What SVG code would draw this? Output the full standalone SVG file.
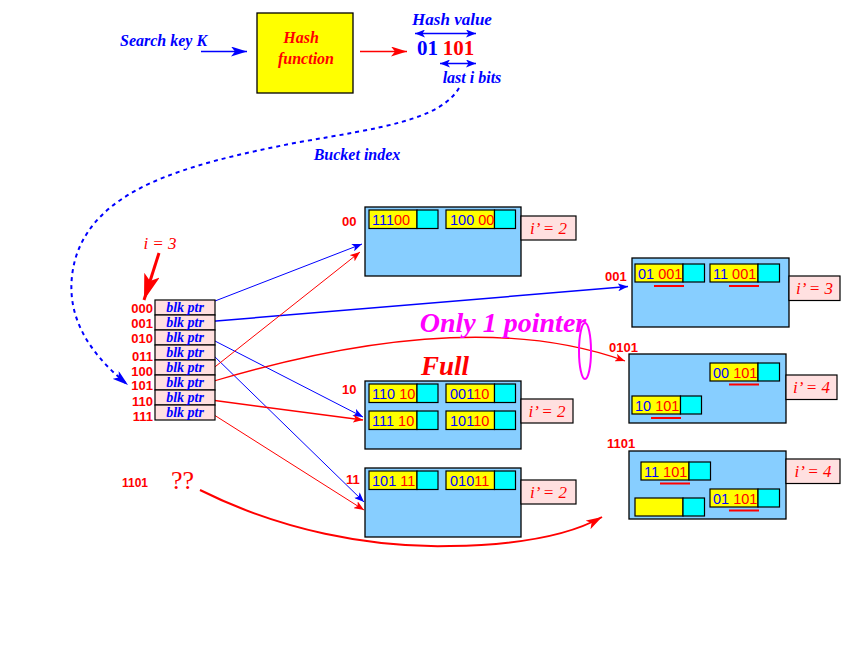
<svg xmlns="http://www.w3.org/2000/svg" width="862" height="652" viewBox="0 0 862 652">
<style>
.bk{fill:#87ceff;stroke:#000;stroke-width:1.3}
.ye{fill:#ffff00;stroke:#000;stroke-width:1.2}
.cy{fill:#00ffff;stroke:#000;stroke-width:1.2}
.pk{fill:#ffe0e0;stroke:#000;stroke-width:1.2}
.it{font-family:"Liberation Serif","Times New Roman",serif;font-style:italic;font-weight:bold}
.sn{font-family:"Liberation Sans",Arial,sans-serif}
.rd{fill:#ff0000}
.bl{fill:#0000ff}
.mg{fill:#ff00ff}
.rec{font-family:"Liberation Sans",Arial,sans-serif;font-size:14.5px}
.ip{font-family:"Liberation Serif","Times New Roman",serif;font-style:italic;font-size:17px;fill:#ff0000;text-anchor:middle}
.lab{font-family:"Liberation Sans",Arial,sans-serif;font-weight:bold;font-size:13px;fill:#ff0000}
.ul{stroke:#ff0000;stroke-width:2}
.cb{fill:none;stroke:#0000ff}
.cr{fill:none;stroke:#ff0000}
</style>
<defs>
<marker id="ab" viewBox="0 0 10 8" refX="10" refY="4" markerWidth="10" markerHeight="8" markerUnits="userSpaceOnUse" orient="auto-start-reverse"><path d="M0,0 L10,4 L0,8 L2.5,4 z" fill="#0000ff"/></marker>
<marker id="ar" viewBox="0 0 10 8" refX="10" refY="4" markerWidth="10" markerHeight="8" markerUnits="userSpaceOnUse" orient="auto"><path d="M0,0 L10,4 L0,8 L2.5,4 z" fill="#ff0000"/></marker>
<marker id="abL" viewBox="0 0 16 10" refX="16" refY="5" markerWidth="16" markerHeight="10" markerUnits="userSpaceOnUse" orient="auto"><path d="M0,0 L16,5 L0,10 L4,5 z" fill="#0000ff"/></marker>
<marker id="arL" viewBox="0 0 16 10" refX="16" refY="5" markerWidth="16" markerHeight="10" markerUnits="userSpaceOnUse" orient="auto"><path d="M0,0 L16,5 L0,10 L4,5 z" fill="#ff0000"/></marker>
<marker id="arXL" viewBox="0 0 26 16" refX="26" refY="8" markerWidth="26" markerHeight="16" markerUnits="userSpaceOnUse" orient="auto"><path d="M0,0 L26,8 L0,16 L6,8 z" fill="#ff0000"/></marker>
</defs>
<rect width="862" height="652" fill="#ffffff"/>

<g id="connectors">
<line x1="201" y1="51.5" x2="247" y2="51.5" class="cb" stroke-width="1.5" marker-end="url(#abL)"/>
<line x1="360" y1="51.5" x2="407" y2="51.5" class="cr" stroke-width="1.5" marker-end="url(#arL)"/>
<line x1="415" y1="33.5" x2="476" y2="33.5" class="cb" stroke-width="1.5" marker-start="url(#ab)" marker-end="url(#ab)"/>
<line x1="440" y1="63.5" x2="476" y2="63.5" class="cb" stroke-width="1.5" marker-start="url(#ab)" marker-end="url(#ab)"/>
<path d="M459,88 C440,120 380,128 300,142 C180,165 95,190 75,260 C62,310 85,350 128,385" class="cb" stroke-width="2" stroke-dasharray="4,4" marker-end="url(#abL)"/>
<line x1="159" y1="253" x2="144" y2="300" class="cr" stroke-width="3" marker-end="url(#arXL)"/>
<line x1="215" y1="301" x2="362" y2="244" class="cb" stroke-width="1" marker-end="url(#ab)"/>
<line x1="210" y1="321.5" x2="628" y2="286.5" class="cb" stroke-width="1.5" marker-end="url(#ab)"/>
<line x1="213" y1="340" x2="363" y2="417" class="cb" stroke-width="1" marker-end="url(#ab)"/>
<line x1="213" y1="355" x2="364" y2="502" class="cb" stroke-width="1" marker-end="url(#ab)"/>
<line x1="211" y1="370" x2="360" y2="252" class="cr" stroke-width="1" marker-end="url(#ar)"/>
<path d="M214,381 Q470,305 625,361" class="cr" stroke-width="1.3" marker-end="url(#ar)"/>
<line x1="211" y1="400" x2="363" y2="420" class="cr" stroke-width="1.5" marker-end="url(#ar)"/>
<line x1="211" y1="413" x2="364" y2="510" class="cr" stroke-width="1" marker-end="url(#ar)"/>
<path d="M200,490 C280,530 370,548 450,546 C520,545 570,535 602,517" class="cr" stroke-width="2" marker-end="url(#arL)"/>
</g>

<g id="search-key">
<text x="120" y="46" class="it bl" font-size="16">Search key K</text>
</g>

<g id="hash-function">
<rect x="257" y="13" width="96" height="80" fill="#ffff00" stroke="#000" stroke-width="1.3"/>
<text x="301" y="43" class="it rd" font-size="16" text-anchor="middle">Hash</text>
<text x="306" y="64" class="it rd" font-size="16" text-anchor="middle">function</text>
</g>

<g id="hash-value">
<text x="452" y="25" class="it bl" font-size="17" text-anchor="middle">Hash value</text>
<text x="417" y="55" font-family="'Liberation Serif','Times New Roman',serif" font-weight="bold" font-size="21"><tspan class="bl">01</tspan><tspan class="rd" dx="6">101</tspan></text>
<text x="472" y="83" class="it bl" font-size="16" text-anchor="middle">last i bits</text>
<text x="357" y="160" class="it bl" font-size="16" text-anchor="middle">Bucket index</text>
</g>

<g id="directory">
<text x="160" y="249" class="rd" font-family="'Liberation Serif','Times New Roman',serif" font-style="italic" font-size="17" text-anchor="middle">i = 3</text>
<rect x="155" y="300" width="60" height="15" class="pk"/>
<rect x="155" y="315" width="60" height="15" class="pk"/>
<rect x="155" y="330" width="60" height="15" class="pk"/>
<rect x="155" y="345" width="60" height="15" class="pk"/>
<rect x="155" y="360" width="60" height="15" class="pk"/>
<rect x="155" y="375" width="60" height="15" class="pk"/>
<rect x="155" y="390" width="60" height="15" class="pk"/>
<rect x="155" y="405" width="60" height="15" class="pk"/>
<g class="it bl" font-size="14" text-anchor="middle">
<text x="185" y="312">blk ptr</text>
<text x="185" y="327">blk ptr</text>
<text x="185" y="342">blk ptr</text>
<text x="185" y="357">blk ptr</text>
<text x="185" y="372">blk ptr</text>
<text x="185" y="387">blk ptr</text>
<text x="185" y="402">blk ptr</text>
<text x="185" y="417">blk ptr</text>
</g>
<g class="lab" text-anchor="end">
<text x="153" y="313">000</text>
<text x="153" y="328">001</text>
<text x="153" y="343">010</text>
<text x="153" y="361">011</text>
<text x="153" y="376">100</text>
<text x="153" y="390">101</text>
<text x="153" y="406">110</text>
<text x="153" y="421">111</text>
</g>
</g>

<g id="bucket-00">
<text x="342" y="226" class="lab">00</text>
<rect x="365" y="207" width="156" height="69" class="bk"/>
<rect x="521" y="216" width="55" height="24" class="pk"/>
<text x="548.5" y="234" class="ip">i’ = 2</text>
<rect x="369" y="210" width="48" height="18.5" class="ye"/><rect x="417" y="210" width="21" height="18.5" class="cy"/>
<rect x="446" y="210" width="48.5" height="18.5" class="ye"/><rect x="494.5" y="210" width="21" height="18.5" class="cy"/>
<text x="372" y="225" class="rec"><tspan class="bl">111</tspan><tspan class="rd">00</tspan></text>
<text x="450" y="225" class="rec"><tspan class="bl">100 </tspan><tspan class="rd">00</tspan></text>
</g>

<g id="bucket-10">
<text x="342" y="394" class="lab">10</text>
<text x="445" y="375" class="it rd" font-size="27" text-anchor="middle">Full</text>
<rect x="365" y="381" width="156" height="68" class="bk"/>
<rect x="521" y="399" width="52" height="24" class="pk"/>
<text x="547" y="417" class="ip">i’ = 2</text>
<rect x="369" y="384" width="48" height="18.5" class="ye"/><rect x="417" y="384" width="21" height="18.5" class="cy"/>
<rect x="446" y="384" width="48.5" height="18.5" class="ye"/><rect x="494.5" y="384" width="21" height="18.5" class="cy"/>
<rect x="369" y="411" width="48" height="18.5" class="ye"/><rect x="417" y="411" width="21" height="18.5" class="cy"/>
<rect x="446" y="411" width="48.5" height="18.5" class="ye"/><rect x="494.5" y="411" width="21" height="18.5" class="cy"/>
<text x="372" y="399" class="rec"><tspan class="bl">110 </tspan><tspan class="rd">10</tspan></text>
<text x="450" y="399" class="rec"><tspan class="bl">001</tspan><tspan class="rd">10</tspan></text>
<text x="372" y="426" class="rec"><tspan class="bl">111 </tspan><tspan class="rd">10</tspan></text>
<text x="450" y="426" class="rec"><tspan class="bl">101</tspan><tspan class="rd">10</tspan></text>
</g>

<g id="bucket-11">
<text x="346" y="484" class="lab">11</text>
<rect x="365" y="468" width="156" height="69" class="bk"/>
<rect x="521" y="480" width="55" height="24" class="pk"/>
<text x="548.5" y="498" class="ip">i’ = 2</text>
<rect x="369" y="471" width="48" height="18.5" class="ye"/><rect x="417" y="471" width="21" height="18.5" class="cy"/>
<rect x="446" y="471" width="48.5" height="18.5" class="ye"/><rect x="494.5" y="471" width="21" height="18.5" class="cy"/>
<text x="372" y="486" class="rec"><tspan class="bl">101 </tspan><tspan class="rd">11</tspan></text>
<text x="450" y="486" class="rec"><tspan class="bl">010</tspan><tspan class="rd">11</tspan></text>
</g>

<g id="bucket-001">
<text x="605" y="281" class="lab">001</text>
<rect x="632" y="258" width="157" height="69" class="bk"/>
<rect x="789" y="276" width="51" height="24.5" class="pk"/>
<text x="814.5" y="294" class="ip">i’ = 3</text>
<rect x="635" y="264" width="48" height="18" class="ye"/><rect x="683" y="264" width="21.5" height="18" class="cy"/>
<rect x="710" y="264" width="48" height="18" class="ye"/><rect x="758" y="264" width="21.5" height="18" class="cy"/>
<text x="638" y="279" class="rec"><tspan class="bl">01 </tspan><tspan class="rd">001</tspan></text>
<text x="713" y="279" class="rec"><tspan class="bl">11 </tspan><tspan class="rd">001</tspan></text>
<line x1="654" y1="286" x2="684" y2="286" class="ul"/>
<line x1="729" y1="286" x2="759" y2="286" class="ul"/>
</g>

<g id="bucket-0101">
<text x="609" y="352" class="lab">0101</text>
<rect x="629" y="354" width="157" height="69" class="bk"/>
<rect x="786" y="375" width="51" height="24.5" class="pk"/>
<text x="811.5" y="393" class="ip">i’ = 4</text>
<rect x="710" y="363" width="48" height="18" class="ye"/><rect x="758" y="363" width="21.5" height="18" class="cy"/>
<rect x="632" y="396" width="48.5" height="18" class="ye"/><rect x="680.5" y="396" width="21" height="18" class="cy"/>
<text x="713" y="378" class="rec"><tspan class="bl">00 </tspan><tspan class="rd">101</tspan></text>
<text x="635" y="411" class="rec"><tspan class="bl">10 </tspan><tspan class="rd">101</tspan></text>
<line x1="729" y1="384.5" x2="759" y2="384.5" class="ul"/>
<line x1="651" y1="418" x2="681" y2="418" class="ul"/>
</g>

<g id="bucket-1101">
<text x="607" y="448" class="lab">1101</text>
<rect x="629" y="451" width="157" height="68" class="bk"/>
<rect x="786" y="459" width="54" height="24.5" class="pk"/>
<text x="813" y="477" class="ip">i’ = 4</text>
<rect x="641" y="462" width="48" height="18" class="ye"/><rect x="689" y="462" width="21.5" height="18" class="cy"/>
<rect x="710" y="489" width="48" height="18" class="ye"/><rect x="758" y="489" width="21.5" height="18" class="cy"/>
<rect x="635" y="498" width="48" height="18" class="ye"/><rect x="683" y="498" width="21.5" height="18" class="cy"/>
<text x="644" y="477" class="rec"><tspan class="bl">11 </tspan><tspan class="rd">101</tspan></text>
<text x="713" y="504" class="rec"><tspan class="bl">01 </tspan><tspan class="rd">101</tspan></text>
<line x1="660" y1="483.5" x2="690" y2="483.5" class="ul"/>
<line x1="729" y1="510.5" x2="759" y2="510.5" class="ul"/>
</g>

<g id="annotations">
<text x="503" y="332" class="it mg" font-size="28" text-anchor="middle">Only 1 pointer</text>
<ellipse cx="585" cy="351" rx="6" ry="28" fill="none" stroke="#ff00ff" stroke-width="2"/>
<text x="122" y="487" class="sn rd" font-weight="bold" font-size="12">1101</text>
<text x="171" y="489" class="rd" font-family="'Liberation Serif','Times New Roman',serif" font-size="26">??</text>
</g>
</svg>
